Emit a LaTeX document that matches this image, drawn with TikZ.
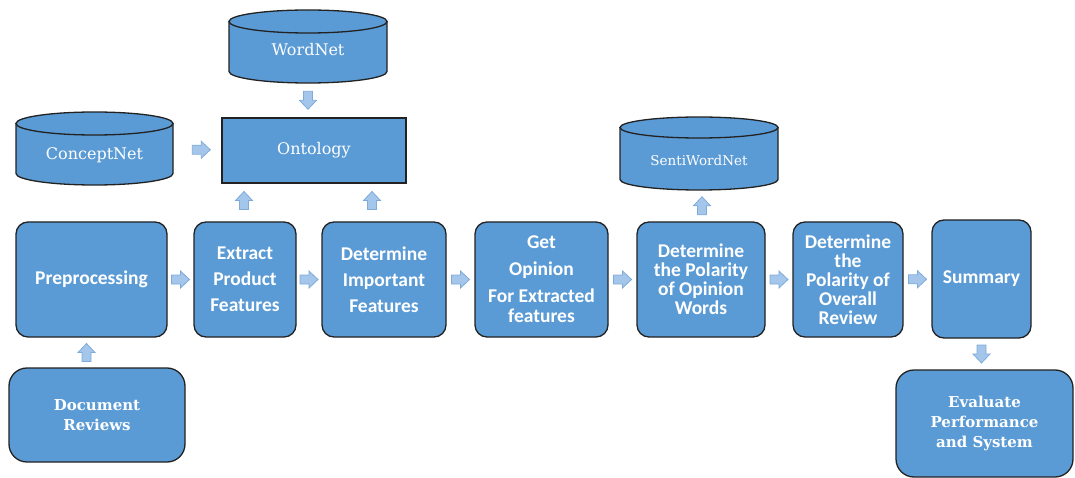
\documentclass[tikz,border=0pt]{standalone}
\usepackage{fontspec}
\usetikzlibrary{calc}
\newfontfamily\boxfont{Carlito}
\newfontfamily\dbfont{DejaVu Serif}
\definecolor{boxblue}{HTML}{5B9BD5}
\definecolor{edge}{HTML}{222222}
\definecolor{arrowfill}{HTML}{A4C6EA}
\definecolor{arrowline}{HTML}{7EABDB}
\tikzset{
  stepbox/.style={draw=edge, line width=1.3pt, fill=boxblue, rounded corners=12pt,
    text=white, align=center, inner sep=0pt,
    font=\boxfont\bfseries\fontsize{19.5}{19}\selectfont},
  endbox/.style={stepbox, rounded corners=18pt,
    font=\dbfont\bfseries\fontsize{15}{19.5}\selectfont},
  dbtext/.style={text=white, inner sep=0pt, font=\dbfont\fontsize{16}{19}\selectfont},
  cylbody/.style={draw=edge, line width=1.3pt, fill=boxblue},
  % chunky block arrow pointing along +x, centred on the pic origin
  flow/.pic={
    \path[draw=arrowline, fill=arrowfill, line width=0.8pt, line join=miter]
      (-9,-4.5) -- (0,-4.5) -- (0,-8.5) -- (9,0) -- (0,8.5) -- (0,4.5) -- (-9,4.5) -- cycle;
  }
}
% database drum: centre x, top-ellipse y, bottom-ellipse y, radii
\newcommand{\drum}[5]{%
  \path[cylbody] (#1-#4,#2) -- (#1-#4,#3)
     arc[start angle=180, end angle=360, x radius=#4pt, y radius=#5pt]
     -- (#1+#4,#2) -- cycle;
  \path[cylbody] (#1,#2) ellipse[x radius=#4pt, y radius=#5pt];
}
\begin{document}
\begin{tikzpicture}[x=1pt, y=-1pt]
\useasboundingbox (0,0) rectangle (1075,478);

% knowledge sources
\drum{308}{21.5}{71.5}{79}{11.5}
\node[dbtext, minimum width=158pt, minimum height=73pt] (wn) at (308,46.5) {};
\node[dbtext] at (308,50) {WordNet};

\drum{94.5}{123.5}{173.5}{78.5}{11.5}
\node[dbtext, minimum width=157pt, minimum height=73pt] (cn) at (94.5,149) {};
\node[dbtext] at (94.5,155) {ConceptNet};

\drum{699}{127.5}{179.5}{79}{10.5}
\node[dbtext, minimum width=158pt, minimum height=73pt] (swn) at (699,153.5) {};
\node[dbtext, font=\dbfont\fontsize{13.5}{16}\selectfont] at (699,160) {SentiWordNet};

\node[stepbox, rounded corners=0pt, minimum width=184pt, minimum height=65pt,
      font=\dbfont\fontsize{16}{19}\selectfont] (ont) at (314,150.5) {Ontology};

% processing pipeline
\node[stepbox, minimum width=151pt, minimum height=115pt] (pre) at (91.5,279.5) {Preprocessing};
\node[stepbox, minimum width=102pt, minimum height=115pt,
      font=\boxfont\bfseries\fontsize{19.5}{26}\selectfont] (ext) at (245,279.5)
      {Extract\\Product\\Features};
\node[stepbox, minimum width=124pt, minimum height=115pt,
      font=\boxfont\bfseries\fontsize{19.5}{26}\selectfont] (imp) at (384,279.5)
      {Determine\\Important\\Features};
\node[stepbox, minimum width=133pt, minimum height=115pt,
      font=\boxfont\bfseries\fontsize{19.5}{20}\selectfont] (get) at (541.5,279.5)
      {Get\\[7pt]Opinion\\[7pt]For Extracted\\features};
\node[stepbox, minimum width=128pt, minimum height=115pt] (pol) at (701,279.5)
      {Determine\\the Polarity\\of Opinion\\Words};
\node[stepbox, minimum width=110pt, minimum height=115pt] (ovr) at (848,279.5)
      {Determine\\the\\Polarity of\\Overall\\Review};
\node[stepbox, minimum width=99pt, minimum height=118pt] (sum) at (981.5,279) {Summary};

\node[endbox, minimum width=176pt, minimum height=94pt] (doc) at (97,415)
      {Document\\Reviews};
\node[endbox, minimum width=177pt, minimum height=107pt,
      font=\dbfont\bfseries\fontsize{15}{20}\selectfont] (eva) at (984.5,423.5)
      {Evaluate\\Performance\\and System};

% block arrows between the stages
\pic[rotate=-90] at ($(wn.south)!0.5!(ont.north)+(-3,0)$) {flow};
\pic at ($(cn.east)!0.5!(ont.west)+(4,0)$) {flow};
\pic[rotate=90] at ($(ext.north)!0.5!(ext.north |- ont.south)+(-1,-2)$) {flow};
\pic[rotate=90] at ($(imp.north)!0.5!(imp.north |- ont.south)+(-12,-2)$) {flow};
\pic at ($(pre.east)!0.5!(ext.west)$) {flow};
\pic at ($(ext.east)!0.5!(imp.west)$) {flow};
\pic at ($(imp.east)!0.5!(get.west)$) {flow};
\pic at ($(get.east)!0.5!(pol.west)$) {flow};
\pic at ($(pol.east)!0.5!(ovr.west)$) {flow};
\pic at ($(ovr.east)!0.5!(sum.west)$) {flow};
\pic[rotate=90] at ($(pol.north)!0.5!(swn.south)+(2,0)$) {flow};
\pic[rotate=90] at ($(pre.south)!0.5!(pre.south |- doc.north)+(-5,0)$) {flow};
\pic[rotate=-90] at ($(sum.south)!0.5!(sum.south |- eva.north)$) {flow};
\end{tikzpicture}
\end{document}
